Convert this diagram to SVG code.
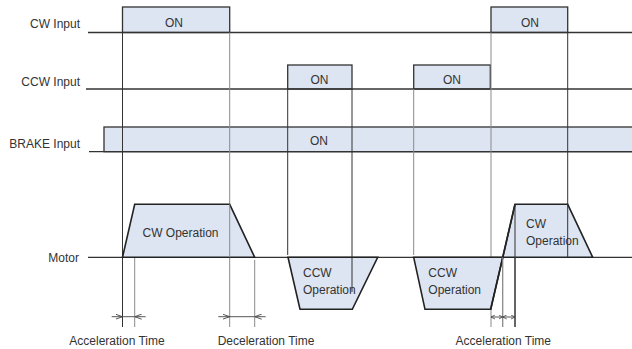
<svg xmlns="http://www.w3.org/2000/svg" width="632" height="349" viewBox="0 0 632 349">
<defs>
<style>
text{font-family:"Liberation Sans",Arial,sans-serif;font-size:12px;fill:#333}
.lbl{text-anchor:end}
.mid{text-anchor:middle}
.sig{fill:#dde5f2;stroke:#333;stroke-width:1.3}
.base{fill:none;stroke:#333;stroke-width:1.3}
.op{fill:#dde5f2;stroke:#222;stroke-width:1.6;stroke-linejoin:miter}
.g{stroke:#8a8a8a;stroke-width:1;fill:none}
.d{stroke:#333;stroke-width:1;fill:none}
.dim{stroke:#444;stroke-width:0.9;fill:none}
</style>
<marker id="chev" viewBox="0 0 7 6" refX="7" refY="3" markerWidth="7" markerHeight="6" markerUnits="userSpaceOnUse" orient="auto-start-reverse">
<path d="M0,0.5 L7,3 L0,5.5" fill="none" stroke="#444" stroke-width="0.9"/>
</marker>
<marker id="chs" viewBox="0 0 4 5" refX="4" refY="2.5" markerWidth="4" markerHeight="5" markerUnits="userSpaceOnUse" orient="auto-start-reverse">
<path d="M0,0.5 L4,2.5 L0,4.5" fill="none" stroke="#444" stroke-width="0.8"/>
</marker>
</defs>
<rect width="632" height="349" fill="#fff"/>

<g id="cw-input">
<rect class="sig" x="122.5" y="7" width="107.2" height="25.5"/>
<rect class="sig" x="491" y="7" width="76.7" height="25.5"/>
<line class="base" x1="88" y1="32.5" x2="632" y2="32.5"/>
<text class="lbl" x="80" y="28">CW Input</text>
<text class="mid" x="174" y="27">ON</text>
<text class="mid" x="530" y="27">ON</text>
</g>

<g id="ccw-input">
<rect class="sig" x="287.7" y="65" width="64.3" height="24"/>
<rect class="sig" x="413.7" y="65" width="76.6" height="24"/>
<line class="base" x1="86" y1="89" x2="632" y2="89"/>
<text class="lbl" x="80" y="85.5">CCW Input</text>
<text class="mid" x="319.5" y="84">ON</text>
<text class="mid" x="452" y="84">ON</text>
</g>

<g id="brake-input">
<rect class="sig" x="104" y="127" width="540" height="24.7"/>
<line class="base" x1="89" y1="151.7" x2="632" y2="151.7"/>
<text class="lbl" x="80" y="148">BRAKE Input</text>
<text class="mid" x="319" y="144.5">ON</text>
</g>

<g id="connectors">
<line class="d" x1="122.5" y1="32.5" x2="122.5" y2="327"/>
<line class="g" x1="229.7" y1="32.5" x2="229.7" y2="327"/>
<line class="g" x1="134.7" y1="204.3" x2="134.7" y2="327"/>
<line class="g" x1="254.7" y1="260" x2="254.7" y2="327"/>
<line class="d" x1="287.7" y1="89" x2="287.7" y2="255"/>
<line class="d" x1="352" y1="89" x2="352" y2="292"/>
<line class="g" x1="413.7" y1="89" x2="413.7" y2="255"/>
<line class="g" x1="491" y1="32.5" x2="491" y2="327"/>
<line class="d" x1="567.7" y1="32.5" x2="567.7" y2="257.3"/>
<line class="g" x1="502.7" y1="257.3" x2="502.7" y2="327"/>
<line class="d" x1="515" y1="204.3" x2="515" y2="327"/>
</g>

<g id="motor">
<line class="base" x1="88" y1="257.3" x2="632" y2="257.3"/>
<text class="lbl" x="79" y="261.5">Motor</text>
<g id="cw-op-1">
<polygon class="op" points="122.5,257.3 134.7,204.3 229.7,204.3 254.7,257.3"/>
<text x="142.5" y="236.5">CW Operation</text>
</g>
<g id="ccw-op-1">
<polygon class="op" points="288,257.3 300,309.3 352.3,309.3 377.7,257.3"/>
<text x="303" y="277">CCW</text>
<text x="303" y="294">Operation</text>
</g>
<g id="ccw-op-2">
<polygon class="op" points="413.7,257.3 425,309.3 490.7,309.3 502.8,257.3"/>
<text x="428.3" y="277">CCW</text>
<text x="428.3" y="294">Operation</text>
</g>
<g id="cw-op-2">
<polygon class="op" points="502.8,257.3 515,204.3 567.7,204.3 592.7,257.3"/>
<text x="526" y="228">CW</text>
<text x="526" y="244.7">Operation</text>
</g>
<line x1="490.7" y1="309.3" x2="515" y2="204.3" stroke="#222" stroke-width="1.6"/>
<line class="g" x1="502.7" y1="257.3" x2="502.7" y2="327"/>
<line class="d" x1="515" y1="204.3" x2="515" y2="327"/>
<line class="d" x1="352" y1="257.3" x2="352" y2="292"/>
<line class="d" x1="567.7" y1="204.3" x2="567.7" y2="257.3"/>
<line class="g" x1="229.7" y1="204.3" x2="229.7" y2="257.3"/>
</g>

<g id="dimensions">
<line class="dim" x1="111.7" y1="316.7" x2="122.5" y2="316.7" marker-end="url(#chev)"/>
<line class="dim" x1="122.5" y1="316.7" x2="134.7" y2="316.7"/>
<line class="dim" x1="145.7" y1="316.7" x2="134.7" y2="316.7" marker-end="url(#chev)"/>
<line class="dim" x1="218.3" y1="316.7" x2="229.7" y2="316.7" marker-end="url(#chev)"/>
<line class="dim" x1="229.7" y1="316.7" x2="254.7" y2="316.7"/>
<line class="dim" x1="265.7" y1="316.7" x2="254.7" y2="316.7" marker-end="url(#chev)"/>
<line class="dim" x1="491" y1="317" x2="502.7" y2="317" marker-start="url(#chs)" marker-end="url(#chs)"/>
<line class="dim" x1="502.7" y1="317" x2="515" y2="317" marker-start="url(#chs)" marker-end="url(#chs)"/>
<text class="mid" x="117" y="345">Acceleration Time</text>
<text class="mid" x="266" y="345">Deceleration Time</text>
<text class="mid" x="503.3" y="345">Acceleration Time</text>
</g>
</svg>
